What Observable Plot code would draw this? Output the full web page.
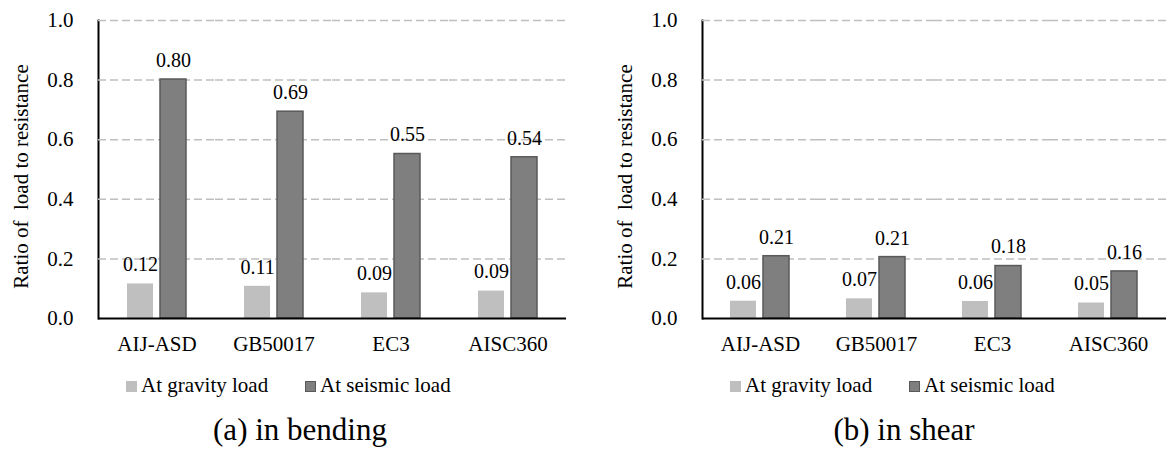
<!DOCTYPE html>
<html>
<head>
<meta charset="utf-8">
<script src="https://cdn.jsdelivr.net/npm/d3@7"></script>
<script src="https://cdn.jsdelivr.net/npm/@observablehq/plot@0.6"></script>
<style>
  body { margin: 0; background: #fff; }
  #wrap { position: relative; width: 1171px; height: 449px; overflow: hidden; font-family: "Times New Roman", "Liberation Serif", "DejaVu Serif", serif; color: #000; }
  .panel { position: absolute; top: 0; width: 585px; height: 358px; }
  .panel svg { overflow: visible; max-width: none !important; width: 585px; height: 358px; font-family: "Times New Roman", "Liberation Serif", "DejaVu Serif", serif !important; }
  .panel svg text, .panel svg g { font-family: "Times New Roman", "Liberation Serif", "DejaVu Serif", serif !important; }
  g[aria-label="frame"] line, g[aria-label="frame"] rect { stroke: #000 !important; stroke-width: 2px !important; }
  .sw { position: absolute; width: 11px; height: 11px; top: 381px; box-sizing: border-box; }
  .lt { position: absolute; top: 375px; font-size: 21px; line-height: 21px; white-space: nowrap; }
  .cap { position: absolute; top: 414px; width: 300px; text-align: center; font-size: 31px; line-height: 31px; white-space: nowrap; }
</style>
</head>
<body>
<div id="wrap"></div>
<script>
const categories = ["AIJ-ASD", "GB50017", "EC3", "AISC360"];
const series = ["At gravity load", "At seismic load"];
const bendingGravity = [0.116, 0.108, 0.086, 0.092];
const bendingSeismic = [0.802, 0.694, 0.552, 0.541];
const shearGravity = [0.058, 0.066, 0.057, 0.052];
const shearSeismic = [0.209, 0.206, 0.176, 0.158];
const yTicks = [0, 0.2, 0.4, 0.6, 0.8, 1.0];
const yLabel = "Ratio of\u00a0 load to resistance";
const captions = ["(a) in bending", "(b) in shear"];
const seriesFill = ["#bfbfbf", "#7f7f7f"];
const seriesStroke = ["none", "#595959"];

function rows(g, s) {
  return categories.flatMap((c, i) => [
    {cat: c, series: series[0], v: g[i]},
    {cat: c, series: series[1], v: s[i]}
  ]);
}

function panel(data, marginRight) {
  return Plot.plot({
    width: 585,
    height: 358,
    marginLeft: 97,
    marginRight: marginRight,
    marginTop: 20,
    marginBottom: 40,
    style: {fontSize: "21px", color: "#000", background: "transparent", fontFamily: "Times New Roman, Liberation Serif, serif"},
    fx: {domain: categories, padding: 0, label: null, axis: "bottom", tickSize: 0, tickPadding: 18},
    x: {domain: series, paddingInner: 0.206, paddingOuter: 0.83, axis: null},
    y: {domain: [0, 1], ticks: yTicks, tickFormat: d3.format(".1f"), tickSize: 0, tickPadding: 25, label: null, line: true},
    marks: [
      Plot.gridY(yTicks.slice(1), {stroke: "#bfbfbf", strokeOpacity: 1, strokeWidth: 1.5, strokeDasharray: "8,4"}),
      ...series.map((s, k) => Plot.barY(data.filter(d => d.series === s), {
        fx: "cat", x: "series", y: "v", fill: seriesFill[k], stroke: seriesStroke[k], strokeWidth: 1.5
      })),
      Plot.ruleY([0], {stroke: "#000", strokeWidth: 2}),
      Plot.text(data, {fx: "cat", x: "series", y: "v", text: d => d.v.toFixed(2), dy: -19, fontSize: 20, fill: "#000"}),
      Plot.text([yLabel], {fx: [categories[0]], frameAnchor: "left", textAnchor: "middle", dx: -77, dy: 7, rotate: -90, fontSize: 21, fill: "#000"})
    ]
  });
}

const wrap = document.getElementById("wrap");
const panels = [
  {data: rows(bendingGravity, bendingSeismic), origin: 0, mr: 18},
  {data: rows(shearGravity, shearSeismic), origin: 604, mr: 22}
];
panels.forEach((p, idx) => {
  const div = document.createElement("div");
  div.className = "panel";
  div.style.left = p.origin + "px";
  div.appendChild(panel(p.data, p.mr));
  wrap.appendChild(div);

  const legendX = [126, 305];
  series.forEach((s, k) => {
    const sw = document.createElement("div");
    sw.className = "sw";
    sw.style.left = (p.origin + legendX[k]) + "px";
    sw.style.background = seriesFill[k];
    if (seriesStroke[k] !== "none") sw.style.border = "1px solid " + seriesStroke[k];
    wrap.appendChild(sw);
    const t = document.createElement("div");
    t.className = "lt";
    t.style.left = (p.origin + legendX[k] + 15) + "px";
    t.textContent = s;
    wrap.appendChild(t);
  });

  const cap = document.createElement("div");
  cap.className = "cap";
  cap.style.left = (p.origin + 150) + "px";
  cap.textContent = captions[idx];
  wrap.appendChild(cap);
});
</script>
</body>
</html>
